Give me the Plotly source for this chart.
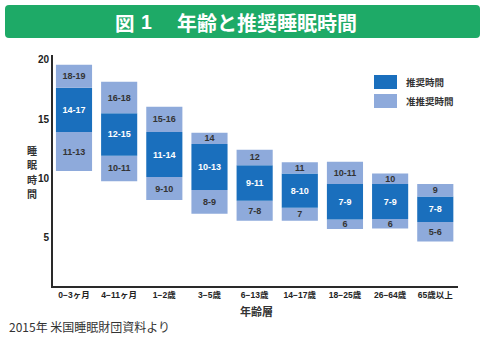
import plotly.graph_objects as go

# ---- data (hours of sleep) ----
categories = ["0−3ヶ月", "4−11ヶ月", "1−2歳", "3−5歳", "6−13歳",
              "14−17歳", "18−25歳", "26−64歳", "65歳以上"]
# labels of each segment
low_labels = ["11-13", "10-11", "9-10", "8-9", "7-8", "7", "6", "6", "5-6"]
rec_labels = ["14-17", "12-15", "11-14", "10-13", "9-11", "8-10", "7-9", "7-9", "7-8"]
up_labels = ["18-19", "16-18", "15-16", "14", "12", "11", "10-11", "10", "9"]
# segment boundaries as drawn (hours)
bar_bottom = [10.6, 9.75, 8.15, 7.0, 6.4, 6.4, 5.7, 5.75, 4.65]
rec_bottom = [13.9, 11.9, 10.1, 9.0, 8.1, 7.5, 6.5, 6.55, 6.3]
rec_top = [17.65, 15.5, 13.9, 12.9, 11.1, 10.4, 9.5, 9.5, 8.45]
bar_top = [19.6, 18.15, 16.05, 13.85, 12.4, 11.35, 11.4, 10.4, 9.5]
y_ticks = [5, 10, 15, 20]

DARK = "#1a6fbd"
LIGHT = "#8eaadb"
TXT = "#333333"
FONT = "Liberation Sans, Noto Sans CJK JP, sans-serif"
CJK = "Noto Sans CJK JP, sans-serif"

# plot area in pixels
L, R, T, B = 53, 458, 55, 286
W, H = R - L, B - T


def px(x):
    return (x - L) / W


def py(y):
    return (B - y) / H


fig = go.Figure()

segments = [
    (bar_bottom, rec_bottom, low_labels, LIGHT, TXT),
    (rec_bottom, rec_top, rec_labels, DARK, "white"),
    (rec_top, bar_top, up_labels, LIGHT, TXT),
]
for lo, hi, labels, color, tcolor in segments:
    fig.add_trace(go.Bar(
        x=categories,
        base=lo,
        y=[h - l for l, h in zip(lo, hi)],
        width=0.8,
        marker=dict(color=color, line=dict(width=0)),
        text=labels,
        textposition="inside",
        insidetextanchor="middle",
        textangle=0,
        textfont=dict(family=FONT, size=9, color=tcolor, weight="bold"),
        hoverinfo="skip",
        showlegend=False,
    ))

shapes = []
# title banner (rounded)
x0, x1, y0, y1, r = px(5), px(480), py(5), py(38), 4
rx, ry = r / W, r / H
path = (f"M {x0+rx},{y0} L {x1-rx},{y0} Q {x1},{y0} {x1},{y0-ry} "
        f"L {x1},{y1+ry} Q {x1},{y1} {x1-rx},{y1} L {x0+rx},{y1} "
        f"Q {x0},{y1} {x0},{y1+ry} L {x0},{y0-ry} Q {x0},{y0} {x0+rx},{y0} Z")
shapes.append(dict(type="path", xref="paper", yref="paper", path=path,
                   fillcolor="#1eaa67", line=dict(width=0), layer="above"))
# legend swatches
shapes.append(dict(type="rect", xref="paper", yref="paper",
                   x0=px(374), x1=px(397), y0=py(75), y1=py(89),
                   fillcolor=DARK, line=dict(width=0)))
shapes.append(dict(type="rect", xref="paper", yref="paper",
                   x0=px(374), x1=px(397), y0=py(94), y1=py(108),
                   fillcolor=LIGHT, line=dict(width=0)))

annotations = []


def ann(text, x, y, size, color=TXT, xanchor="left", bold=True, family=CJK):
    annotations.append(dict(
        text=text, xref="paper", yref="paper", x=px(x), y=py(y),
        xanchor=xanchor, yanchor="middle", showarrow=False,
        borderpad=0,
        font=dict(family=family, size=size, color=color,
                  weight="bold" if bold else "normal")))


ann("図", 114, 22, 19.5, "white")
ann("1", 140, 22, 19.5, "white", family=FONT)
ann("年齢と推奨睡眠時間", 176, 22, 20, "white")
ann("推奨時間", 405, 82, 9.5)
ann("准推奨時間", 405, 101, 9.5)
for i, ch in enumerate("睡眠時間"):
    ann(ch, 32, 150 + i * 14.6, 10, xanchor="center")
ann("年齢層", 256, 311, 11, xanchor="center")
ann("2015年 米国睡眠財団資料より", 8, 326, 12, "#333333", bold=False)

fig.update_layout(
    width=485, height=337,
    margin=dict(l=L, r=485 - R, t=T, b=337 - B),
    paper_bgcolor="white", plot_bgcolor="white",
    barmode="overlay",
    bargap=0.2,
    uniformtext=dict(minsize=9, mode="show"),
    shapes=shapes,
    annotations=annotations,
    showlegend=False,
)
fig.update_xaxes(
    type="category", range=[-0.465, 8.503],
    showline=True, linecolor="#2a2a2a", linewidth=2,
    showgrid=False, zeroline=False, ticks="",
    tickfont=dict(family=FONT, size=8.5, color="#222222", weight="bold"),
)
fig.update_yaxes(
    range=[0.88, 20.42], tickvals=y_ticks,
    showline=True, linecolor="#2a2a2a", linewidth=2,
    showgrid=False, zeroline=False, ticks="",
    tickfont=dict(family=FONT, size=10, color="#222222", weight="bold"),
)

fig.write_html("out.html")
